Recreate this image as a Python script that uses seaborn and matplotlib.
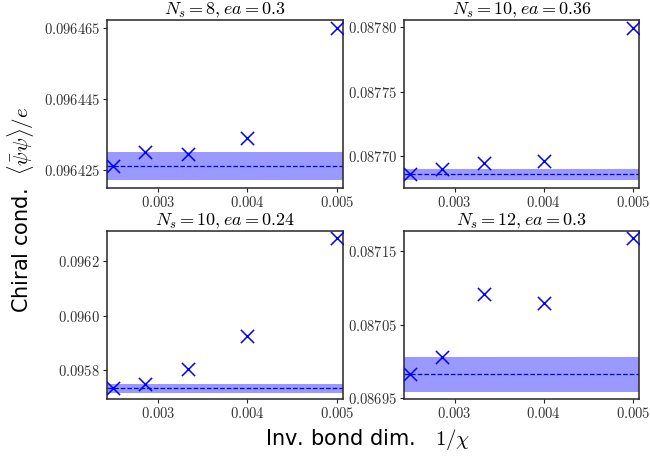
import numpy as np
import pandas as pd
import matplotlib
matplotlib.use('Agg')
import matplotlib.pyplot as plt
import seaborn as sns

# inverse bond dimension 1/chi
inv_chi = [1/400, 1/350, 1/300, 1/250, 1/200]

titles = [r'$N_s=8, ea=0.3$', r'$N_s=10, ea=0.36$',
          r'$N_s=10, ea=0.24$', r'$N_s=12, ea=0.3$']

# chiral condensate per panel
cond_8_030 = [0.0964261, 0.0964301, 0.0964294, 0.0964341, 0.0964650]
cond_10_036 = [0.0876858, 0.0876899, 0.0876946, 0.0876959, 0.0877997]
cond_10_024 = [0.0957336, 0.0957483, 0.0958048, 0.0959240, 0.0962830]
cond_12_030 = [0.0869829, 0.0870066, 0.0870915, 0.0870796, 0.0871678]

# extrapolated value and error band (low, high)
extrap = [0.0964261, 0.0876858, 0.0957336, 0.0869829]
band_lo = [0.0964221, 0.0876813, 0.0957173, 0.0869582]
band_hi = [0.0964301, 0.0876896, 0.0957483, 0.0870062]

ylims = [(0.0964200, 0.0964671), (0.0876751, 0.0878057),
         (0.095694, 0.096310), (0.086949, 0.0871778)]
yticks = [[0.096425, 0.096445, 0.096465],
          [0.08770, 0.08775, 0.08780],
          [0.0958, 0.0960, 0.0962],
          [0.08695, 0.08705, 0.08715]]
ytick_labels = [['0.096425', '0.096445', '0.096465'],
                ['0.08770', '0.08775', '0.08780'],
                ['0.0958', '0.0960', '0.0962'],
                ['0.08695', '0.08705', '0.08715']]
xticks = [0.003, 0.004, 0.005]
xtick_labels = ['0.003', '0.004', '0.005']

series = [cond_8_030, cond_10_036, cond_10_024, cond_12_030]

sns.set_style('ticks')
plt.rcParams['mathtext.fontset'] = 'cm'
plt.rcParams['font.family'] = ['DejaVu Sans']

fig = plt.figure(figsize=(6.5, 4.66), dpi=100)
lefts = [0.1646, 0.6215, 0.1646, 0.6215]
bottoms = [0.5966, 0.5966, 0.1438, 0.1438]
w1, w2, h = 0.3631, 0.3615, 0.3604

for i in range(4):
    w = w1 if i % 2 == 0 else w2
    ax = fig.add_axes([lefts[i], bottoms[i], w, h])
    df = pd.DataFrame({'x': inv_chi, 'y': series[i]})
    ax.axhspan(band_lo[i], band_hi[i], color='blue', alpha=0.4, lw=0)
    ax.axhline(extrap[i], color='blue', ls='--', lw=0.9)
    sns.scatterplot(data=df, x='x', y='y', ax=ax, marker='x', s=90,
                    color='blue', linewidth=1.1, zorder=3)
    ax.set_xlim(0.002433, 0.005067)
    ax.set_ylim(*ylims[i])
    ax.set_yticks(yticks[i], labels=['$' + t + '$' for t in ytick_labels[i]])
    ax.set_xticks(xticks, labels=['$' + t + '$' for t in xtick_labels])
    ax.tick_params(labelsize=10.5, labelcolor='#333333', length=3, pad=2)
    ax.set_xlabel('')
    ax.set_ylabel('')
    ax.set_title(titles[i], fontsize=13, pad=2, color='black')
    for sp in ax.spines.values():
        sp.set_linewidth(1.1)

fig.text(0.565, 0.056, r'Inv. bond dim.   $1/\chi$', ha='center', va='center',
         fontsize=15, color='black')
fig.text(0.032, 0.55, r'Chiral cond.  $\langle\bar{\psi}\psi\rangle/e$',
         ha='center', va='center', rotation=90, fontsize=15, color='black')

fig.savefig('out.png', dpi=100)
